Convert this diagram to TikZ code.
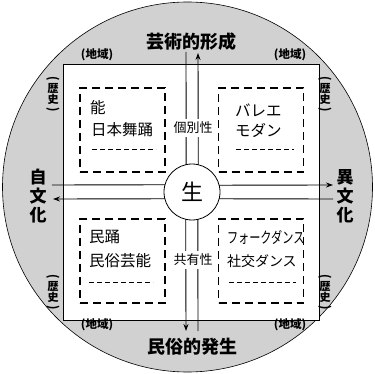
\documentclass[tikz,border=0pt]{standalone}
\usepackage{fontspec}
\setmainfont{Noto Sans CJK JP}
\usetikzlibrary{arrows.meta}
\newcommand{\vparen}[1]{\rotatebox[origin=c]{-90}{\scalebox{1}[1.15]{#1}}}
\tikzset{
  every node/.style={inner sep=0pt, outer sep=0pt},
  head/.style={font=\bfseries\fontsize{18}{18}\selectfont},
  side/.style={font=\bfseries\fontsize{17}{19}\selectfont, align=center},
  region/.style={font=\bfseries\fontsize{11.5}{11.5}\selectfont},
  hist/.style={font=\bfseries\fontsize{11}{11}\selectfont, align=center},
  dbox/.style={draw, dash pattern=on 8pt off 5pt, line width=1.3pt, minimum width=85pt, minimum height=84pt},
  sub/.style={dash pattern=on 5pt off 3pt, line width=0.6pt},
  item/.style={anchor=west, font=\fontsize{15.5}{15.5}\selectfont},
  axis/.style={fill=white, inner sep=3pt, font=\fontsize{13}{13}\selectfont},
  con/.style={line width=0.9pt},
  arr/.style={line width=0.9pt, -{Stealth[length=7pt,width=5pt]}}
}
\begin{document}
\begin{tikzpicture}[x=1pt,y=-1pt]
\useasboundingbox (0,0) rectangle (375,374);
% background disc and white square
\draw[fill=black!18, line width=0.6pt] (187.5,187) circle[radius=185pt];
\draw[fill=white, line width=0.8pt] (63,64) rectangle (319,320);

% outer labels
\node[head] (art) at (191,42) {芸術的形成};
\node[head] (folk) at (192,347) {民俗的発生};
\node[side] (self) at (38,196) {自\\文\\化};
\node[side] (other) at (345,196) {異\\文\\化};
\node[region] (r1) at (97,55) {(地域)};
\node[region] (r2) at (290,55) {(地域)};
\node[region] (r3) at (97,325) {(地域)};
\node[region] (r4) at (290,325) {(地域)};
\node[hist] (h1) at (53,95) {\vparen{(}\\[-1pt]歴\\史\\[-1pt]\vparen{)}};
\node[hist] (h2) at (325,95) {\vparen{(}\\[-1pt]歴\\史\\[-1pt]\vparen{)}};
\node[hist] (h3) at (53,293) {\vparen{(}\\[-1pt]歴\\史\\[-1pt]\vparen{)}};
\node[hist] (h4) at (325,293) {\vparen{(}\\[-1pt]歴\\史\\[-1pt]\vparen{)}};

% dashed boxes
\node[dbox] (b1) at (122.5,130) {};
\node[dbox] (b2) at (261,130) {};
\node[dbox] (b3) at (122.5,261) {};
\node[dbox] (b4) at (261,261) {};

\node[item] (t1a) at (90,108) {能};
\node[item] (t1b) at (91,130) {日本舞踊};
\draw[sub] (92,149) -- (156,149);
\node[item] (t2a) at (235,110) {バレエ};
\node[item] (t2b) at (235,130) {モダン};
\draw[sub] (236,149) -- (294,149);
\node[item] (t3a) at (89,237) {民踊};
\node[item] (t3b) at (89,261) {民俗芸能};
\draw[sub] (89,282) -- (153,282);
\node[item] (t4a) at (227,237) {\scalebox{0.72}[1]{フォークダンス}};
\node[item, font=\fontsize{14}{14}\selectfont] (t4b) at (227,261) {社交ダンス};
\draw[sub] (229,282) -- (296,282);

% centre
\node[circle, draw, line width=0.8pt, minimum size=56pt, fill=white, font=\fontsize{22}{22}\selectfont] (sei) at (192,192) {生};

\coordinate (tA) at (186,52);
\coordinate (tB) at (198,53);
\coordinate (bA) at (186,331);
\coordinate (bB) at (198,331);
\coordinate (lA) at (52,185);
\coordinate (lB) at (53,199);
\coordinate (rA) at (333,185);
\coordinate (rB) at (333,199);

\draw[con] (tA) -- (sei.102.4);
\draw[arr] (sei.77.6) -- (tB);
\draw[arr] (sei.257.6) -- (bA);
\draw[con] (bB) -- (sei.282.4);
\draw[con] (lA) -- (sei.165.5);
\draw[arr] (sei.14.5) -- (rA);
\draw[arr] (sei.194.5) -- (lB);
\draw[con] (rB) -- (sei.-14.5);

\node[axis] (ind) at (193,128) {個別性};
\node[axis] (com) at (193,260) {共有性};
\end{tikzpicture}
\end{document}
